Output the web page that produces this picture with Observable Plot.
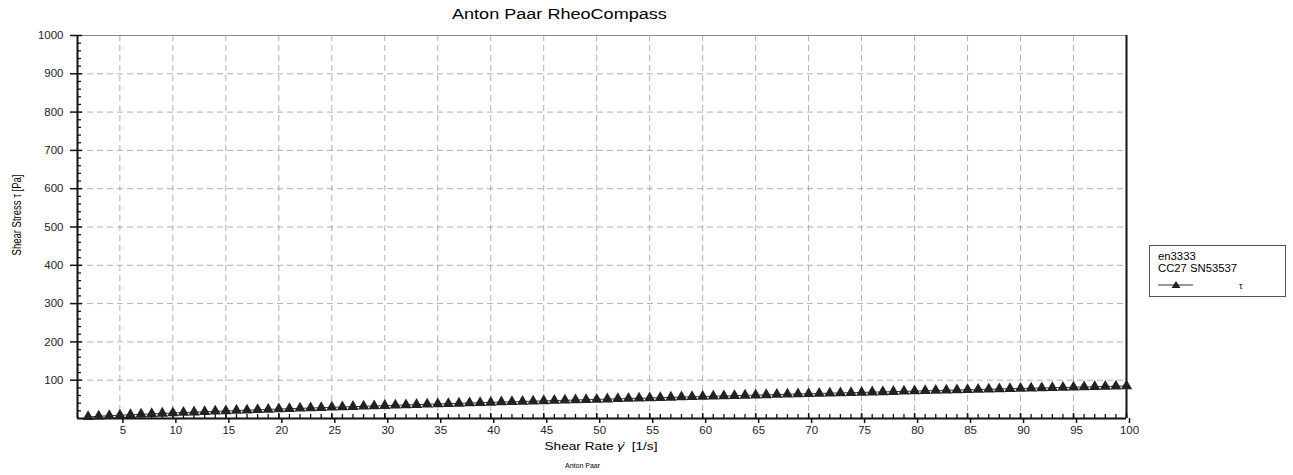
<!DOCTYPE html>
<html>
<head>
<meta charset="utf-8">
<script src="https://cdn.jsdelivr.net/npm/d3@7"></script>
<script src="https://cdn.jsdelivr.net/npm/@observablehq/plot@0.6"></script>
<style>
  html, body { margin: 0; padding: 0; background: #fff; }
  #wrap { position: relative; width: 1293px; height: 475px; font-family: "Liberation Sans", Arial, sans-serif; color: #000; }
  #wrap > #plot svg { position: absolute; left: 0; top: 0; }
  .abs { position: absolute; white-space: nowrap; color: #000; }
  #title { left: 452px; top: 6px; font-size: 14px; transform-origin: left center; transform: scaleX(1.29); }
  #ylab { left: 16px; top: 215px; font-size: 9.5px; transform: translate(-50%, -50%) rotate(-90deg) scale(1, 1.3); }
  #xlab { left: 601px; top: 440px; font-size: 11px; transform: translateX(-50%) scaleX(1.24); }
  #cap { left: 565px; top: 462px; font-size: 7px; }
  #legend { left: 1149px; top: 245px; width: 137px; height: 52px; border: 1px solid #555; box-sizing: border-box; font-size: 10px; }
  #legend .l1, #legend .l2 { position: absolute; left: 8px; transform-origin: left center; transform: scaleX(1.13); }
  #legend .l1 { top: 5px; }
  #legend .l2 { top: 17px; }
  #legend svg { position: absolute; left: 0; top: 0; }
</style>
</head>
<body>
<div id="wrap">
  <div id="plot"></div>
  <div id="title" class="abs">Anton Paar RheoCompass</div>
  <div id="ylab" class="abs">Shear Stress τ [Pa]</div>
  <div id="xlab" class="abs">Shear Rate <i>γ̇</i>&nbsp; [1/s]</div>
  <div id="cap" class="abs">Anton Paar</div>
  <div id="legend" class="abs">
    <div class="l1">en3333</div>
    <div class="l2">CC27 SN53537</div>
    <svg width="137" height="52">
      <line x1="8" x2="43" y1="39" y2="39" stroke="#333" stroke-width="1"/>
      <path d="M26,35 L30.5,42 L21.5,42 Z" fill="#222"/>
      <text x="89" y="43" font-size="9" font-family="Liberation Sans, Arial, sans-serif" fill="#000">τ</text>
    </svg>
  </div>
</div>
<script>
// Shear rate (1/s)
const shearRate = [
  2,3,4,5,6,7,8,9,10,11,12,13,14,15,16,17,18,19,20,
  21,22,23,24,25,26,27,28,29,30,31,32,33,34,35,36,37,38,39,40,
  41,42,43,44,45,46,47,48,49,50,51,52,53,54,55,56,57,58,59,60,
  61,62,63,64,65,66,67,68,69,70,71,72,73,74,75,76,77,78,79,80,
  81,82,83,84,85,86,87,88,89,90,91,92,93,94,95,96,97,98,99,100
];
// Shear stress tau (Pa)
const shearStress = [
  4.3,5.8,7.2,8.5,9.7,10.9,12.1,13.3,14.4,
  15.5,16.6,17.6,18.7,19.7,20.7,21.7,22.7,23.6,24.6,
  25.5,26.5,27.4,28.3,29.2,30.1,31.0,31.9,32.7,33.6,
  34.5,35.3,36.2,37.0,37.9,38.7,39.5,40.4,41.2,42.0,
  42.8,43.6,44.4,45.2,46.0,46.8,47.5,48.3,49.1,49.8,
  50.6,51.4,52.1,52.9,53.6,54.4,55.1,55.9,56.6,57.4,
  58.1,58.8,59.5,60.3,61.0,61.7,62.4,63.2,63.9,64.6,
  65.3,66.0,66.7,67.4,68.1,68.8,69.5,70.2,70.9,71.6,
  72.3,73.0,73.6,74.3,75.0,75.7,76.4,77.0,77.7,78.4,
  79.0,79.7,80.4,81.0,81.7,82.4,83.0,83.7,84.3,85.0
];
const xMajorTicks = [5,10,15,20,25,30,35,40,45,50,55,60,65,70,75,80,85,90,95,100];
const xGridTicks = [5,10,15,20,25,30,35,40,45,50,55,60,65,70,75,80,85,90,95];
const xMinorTicks = d3.range(1, 101);
const yMajorTicks = [100,200,300,400,500,600,700,800,900,1000];
const yGridTicks = [100,200,300,400,500,600,700,800,900];
const yMinorTicks = [20,40,60,80,120,140,160,180,220,240,260,280,320,340,360,380,420,440,460,480,520,540,560,580,620,640,660,680,720,740,760,780,820,840,860,880,920,940,960,980];

const data = shearRate.map((x, i) => ({x, y: shearStress[i]}));

const W = 1293, H = 475;
const mL = 77, mR = 167, mT = 35, mB = 57;
const fw = W - mL - mR, fh = H - mT - mB;
const font = "Liberation Sans, Arial, sans-serif";

const chart = Plot.plot({
  width: W, height: H,
  marginLeft: mL, marginRight: mR, marginTop: mT, marginBottom: mB,
  style: {fontFamily: font, fontSize: "11px", color: "#000", background: "transparent"},
  x: {domain: [1, 100]},
  y: {domain: [0, 1000]},
  marks: [
    Plot.gridX(xGridTicks, {stroke: "#9a9a9a", strokeOpacity: 1, strokeDasharray: "6,4", strokeWidth: 0.8}),
    Plot.gridY(yGridTicks, {stroke: "#9a9a9a", strokeOpacity: 1, strokeDasharray: "6,4", strokeWidth: 0.8}),
    Plot.ruleY([1000], {stroke: "#888", strokeWidth: 1}),
    Plot.ruleX([100], {stroke: "#111", strokeWidth: 2}),
    // minor ticks (inside)
    Plot.tickX(xMinorTicks, {x: d => d, stroke: "#111", strokeWidth: 1.3, insetTop: fh - 4}),
    Plot.tickY(yMinorTicks, {y: d => d, stroke: "#111", strokeWidth: 1.3, insetRight: fw - 4}),
    // major ticks inside part
    Plot.tickX(xMajorTicks, {x: d => d, stroke: "#111", strokeWidth: 1.5, insetTop: fh - 5}),
    Plot.tickY(yMajorTicks, {y: d => d, stroke: "#111", strokeWidth: 1.5, insetRight: fw - 5}),
    // axes (outside ticks + labels)
    Plot.axisX(xMajorTicks, {tickSize: 5, tickPadding: 2, dx: 3, stroke: "#111", strokeWidth: 1.5, fill: "#222", fontSize: 11.5, label: null, tickFormat: d => String(d)}),
    Plot.axisY(yMajorTicks, {tickSize: 7, tickPadding: 7, stroke: "#111", strokeWidth: 1.5, fill: "#222", fontSize: 11.5, label: null, tickFormat: d => String(d)}),
    Plot.ruleX([1], {stroke: "#111", strokeWidth: 2}),
    Plot.ruleY([0], {stroke: "#111", strokeWidth: 2}),
    // data
    Plot.line(data, {x: "x", y: "y", stroke: "#333", strokeWidth: 1}),
    Plot.dot(data, {x: "x", y: "y", symbol: "triangle", fill: "#222", stroke: "none", r: 4.2})
  ]
});
document.getElementById("plot").appendChild(chart);
</script>
</body>
</html>
